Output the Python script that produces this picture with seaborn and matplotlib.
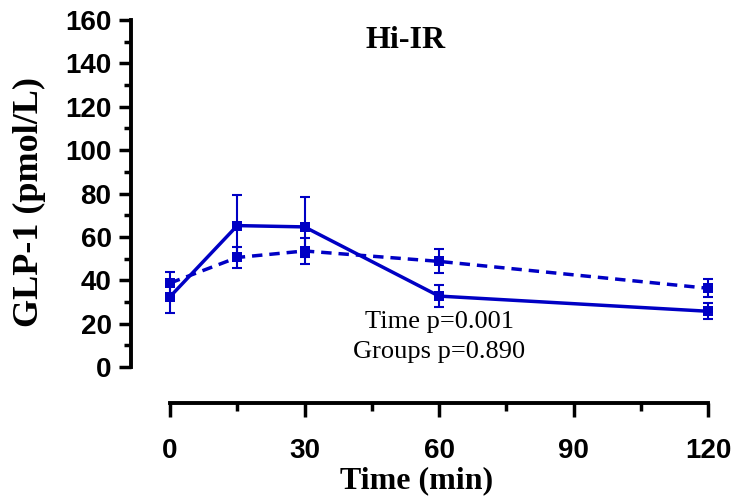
import numpy as np
import pandas as pd
import matplotlib
matplotlib.use('Agg')
import matplotlib.pyplot as plt
import seaborn as sns
from matplotlib.ticker import FixedLocator

# Data (mean +/- SEM)
time_min = [0, 15, 30, 60, 120]
solid_mean = [32.4, 65.2, 64.6, 32.7, 25.7]
solid_err = [7.5, 14.3, 14.0, 5.0, 3.6]
dashed_mean = [38.7, 50.5, 53.5, 48.7, 36.3]
dashed_err = [5.2, 5.0, 5.8, 5.5, 4.2]

y_ticks = [0, 20, 40, 60, 80, 100, 120, 140, 160]
x_ticks = [0, 30, 60, 90, 120]

df = pd.DataFrame({
    'time': time_min * 2,
    'glp1': solid_mean + dashed_mean,
    'sem': solid_err + dashed_err,
    'group': ['solid'] * 5 + ['dashed'] * 5,
})

sns.set_style('ticks')
plt.rcParams['font.family'] = ['Liberation Sans', 'DejaVu Sans']
plt.rcParams.update({'text.color': 'black', 'axes.labelcolor': 'black',
                     'xtick.color': 'black', 'ytick.color': 'black'})

color = '#0000C4'
W, H = 733, 499
fig = plt.figure(figsize=(W / 100, H / 100), dpi=100)
# axes box in pixel coords
left_px, right_px, top_px, bottom_px = 131, 720, 15, 403
ax = fig.add_axes([left_px / W, (H - bottom_px) / H,
                   (right_px - left_px) / W, (bottom_px - top_px) / H])

sns.lineplot(data=df, x='time', y='glp1', style='group',
             style_order=['solid', 'dashed'],
             dashes={'solid': '', 'dashed': (3, 2)},
             markers={'solid': 's', 'dashed': 's'},
             color=color, linewidth=2.5, markersize=6.5,
             markeredgewidth=0, legend=False, ax=ax)

for grp in ['solid', 'dashed']:
    sub = df[df['group'] == grp]
    ax.errorbar(sub['time'], sub['glp1'], yerr=sub['sem'], fmt='none',
                ecolor=color, elinewidth=1.5, capsize=3.5, capthick=1.5)

# pixel mapping: 0 -> 170, 120 -> 708 ; 0 -> 367, 160 -> 20
xs = (708 - 170) / 120
ys = (367 - 20) / 160
ax.set_xlim(-(170 - left_px) / xs, 120 + (right_px - 708) / xs)
ax.set_ylim(-(bottom_px - 367) / ys, 160 + (20 - top_px) / ys)

for s in ['top', 'right']:
    ax.spines[s].set_visible(False)
ax.spines['left'].set_bounds(0, 160)
ax.spines['bottom'].set_bounds(0, 120)
for s in ['left', 'bottom']:
    ax.spines[s].set_linewidth(2.8)
    ax.spines[s].set_color('black')

ax.set_yticks(y_ticks)
ax.set_xticks(x_ticks)
ax.yaxis.set_minor_locator(FixedLocator(np.arange(10, 160, 20)))
ax.xaxis.set_minor_locator(FixedLocator([15, 45, 75, 105]))
ax.tick_params(axis='y', which='major', length=9, width=2.5, pad=5,
               labelsize=20, direction='out')
ax.tick_params(axis='y', which='minor', length=5, width=2.5, direction='out')
ax.tick_params(axis='x', which='major', length=10, width=2.5, pad=15,
               labelsize=20, direction='out')
ax.tick_params(axis='x', which='minor', length=6, width=2.5, direction='out')
for lab in ax.get_xticklabels() + ax.get_yticklabels():
    lab.set_fontweight('bold')

def ax_coords(px, py):
    fx = (px - left_px) / (right_px - left_px)
    fy = (bottom_px - py) / (bottom_px - top_px)
    return fx, fy

serif = ['Liberation Serif', 'DejaVu Serif']
ax.set_xlabel('Time (min)', fontsize=23, fontweight='bold', family=serif, va='center')
ax.xaxis.set_label_coords(*ax_coords(417, 481))
ax.set_ylabel('GLP-1 (pmol/L)', fontsize=26, fontweight='bold', family=serif, va='center')
ax.yaxis.set_label_coords(*ax_coords(29, 202))

ax.text(*ax_coords(406, 40), 'Hi-IR', transform=ax.transAxes, ha='center', va='center',
        fontsize=23, fontweight='bold', family=serif)
ax.text(*ax_coords(439, 322), 'Time p=0.001', transform=ax.transAxes, ha='center',
        va='center', fontsize=19, family=serif)
ax.text(*ax_coords(439, 352), 'Groups p=0.890', transform=ax.transAxes, ha='center',
        va='center', fontsize=19, family=serif)

fig.savefig('out.png', dpi=100)
